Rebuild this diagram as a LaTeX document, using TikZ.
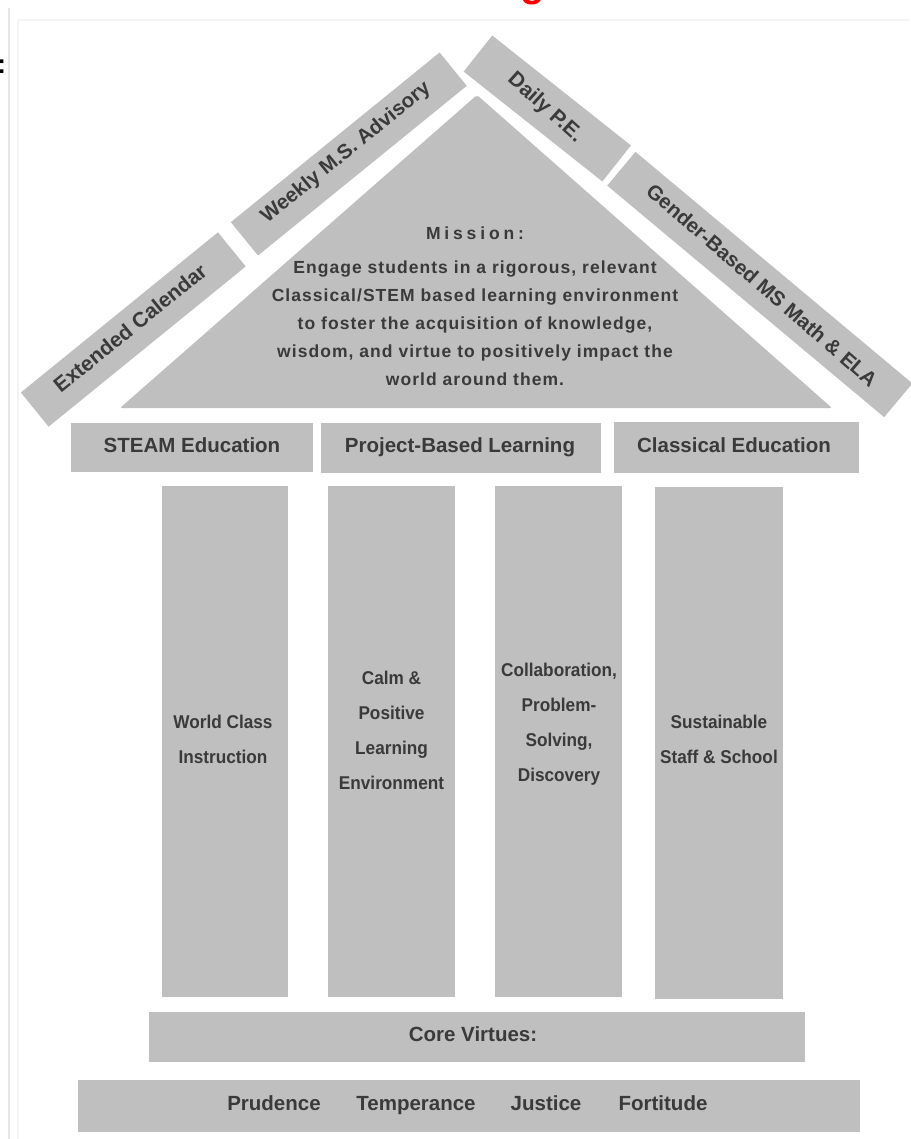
\documentclass[tikz,border=0pt]{standalone}
\usepackage{fontspec}
\setmainfont{Liberation Sans}
\definecolor{boxgray}{HTML}{BFBFBF}
\definecolor{txt}{HTML}{3A3A3A}
\definecolor{framegray}{HTML}{E6E6E6}
\definecolor{framefaint}{HTML}{F4F4F4}
\begin{document}
\begin{tikzpicture}[x=1pt,y=-1pt,
  gblock/.style={fill=boxgray, draw=none, inner sep=0pt, outer sep=0pt},
  beamtxt/.style={text=txt, inner sep=0pt, anchor=base, font=\fontsize{20.5}{24}\selectfont\bfseries},
  pilltxt/.style={text=txt, align=center, inner sep=0pt, font=\fontsize{18.5}{35}\selectfont\bfseries\addfontfeature{FakeStretch=0.93}},
  rooftxt/.style={text=txt, inner sep=0pt, font=\fontsize{#1}{22}\selectfont\bfseries},
  missiontxt/.style={text=txt, align=center, inner sep=0pt, font=\fontsize{17.5}{28}\selectfont\bfseries\addfontfeature{LetterSpace=6}}
]
\useasboundingbox (0,0) rectangle (910,1139);
\fill[white] (0,0) rectangle (910,1139);
% faint frame of the screenshot
\draw[framegray, line width=2.5pt] (9,8) -- (9,1139);
\draw[framefaint, line width=1.5pt] (18,20) -- (910,20);
\draw[framefaint, line width=1.5pt] (18,20) -- (18,1139);
% cut-off title glyph and colon
\node[text=red, inner sep=0pt, anchor=base, font=\fontsize{40}{40}\selectfont\bfseries] (redg) at (533,-3) {g};
\node[text=black, inner sep=0pt, font=\fontsize{27}{27}\selectfont\bfseries] (colon) at (1.5,66.5) {:};

% roof strips
\node[gblock, rotate=39.1, minimum width=254, minimum height=44] (extcal) at (133.3,329.5) {};
\node[rooftxt=21, rotate=39.1] (extcalt) at (130,328) {Extended Calendar};
\node[gblock, rotate=39.1, minimum width=269, minimum height=43] (weekly) at (348.8,154) {};
\node[rooftxt=20.5, rotate=39.1] (weeklyt) at (346,153) {Weekly M.S. Advisory};
\node[gblock, rotate=-38.4, minimum width=177, minimum height=46] (daily) at (547.3,108.5) {};
\node[rooftxt=21, rotate=-42] (dailyt) at (545,108) {Daily P.E.};
\node[gblock, rotate=-39.9, minimum width=361, minimum height=44] (gender) at (759.8,284.5) {};
\node[rooftxt=20.5, rotate=-40.9] (gendert) at (762,285) {Gender-Based MS Math \& ELA};

% mission triangle
\fill[boxgray, rounded corners=2pt] (477,95) -- (832,408) -- (120,408) -- cycle;
\node[missiontxt] (mission) at (475,306) {{\addfontfeature{LetterSpace=22}Mission:}\\[6pt]
Engage students in a rigorous, relevant\\
Classical/STEM based learning environment\\
to foster the acquisition of knowledge,\\
wisdom, and virtue to positively impact the\\
world around them.};

% beam
\node[gblock, minimum width=242, minimum height=49] (steam) at (192,447.5) {};
\node[beamtxt] (steamt) at (192,452.5) {STEAM Education};
\node[gblock, minimum width=280, minimum height=50] (pbl) at (461,448) {};
\node[beamtxt] (pblt) at (460,452.5) {Project-Based Learning};
\node[gblock, minimum width=245, minimum height=51] (classical) at (736.5,447.5) {};
\node[beamtxt] (classicalt) at (734,452.5) {Classical Education};

% pillars
\node[gblock, minimum width=126, minimum height=511] (p1) at (225,741.5) {};
\node[gblock, minimum width=127, minimum height=511] (p2) at (391.5,741.5) {};
\node[gblock, minimum width=127, minimum height=511] (p3) at (558.5,741.5) {};
\node[gblock, minimum width=128, minimum height=512] (p4) at (719,743) {};
\node[pilltxt] (p1t) at (223,739.5) {World Class\\Instruction};
\node[pilltxt] (p2t) at (391.5,730) {Calm \&\\Positive\\Learning\\Environment};
\node[pilltxt] (p3t) at (559,724.5) {Collaboration,\\Problem-\\Solving,\\Discovery};
\node[pilltxt] (p4t) at (719,739) {Sustainable\\Staff \& School};

% foundation
\node[gblock, minimum width=656, minimum height=50] (core) at (477,1037) {};
\node[beamtxt] (coret) at (473,1041) {Core Virtues:};
\node[gblock, minimum width=782, minimum height=52] (base) at (469,1106) {};
\node[beamtxt] (prud) at (274,1110.5) {Prudence};
\node[beamtxt] (temp) at (416,1110.5) {Temperance};
\node[beamtxt] (just) at (546,1110.5) {Justice};
\node[beamtxt] (fort) at (663,1110.5) {Fortitude};
\end{tikzpicture}
\end{document}
